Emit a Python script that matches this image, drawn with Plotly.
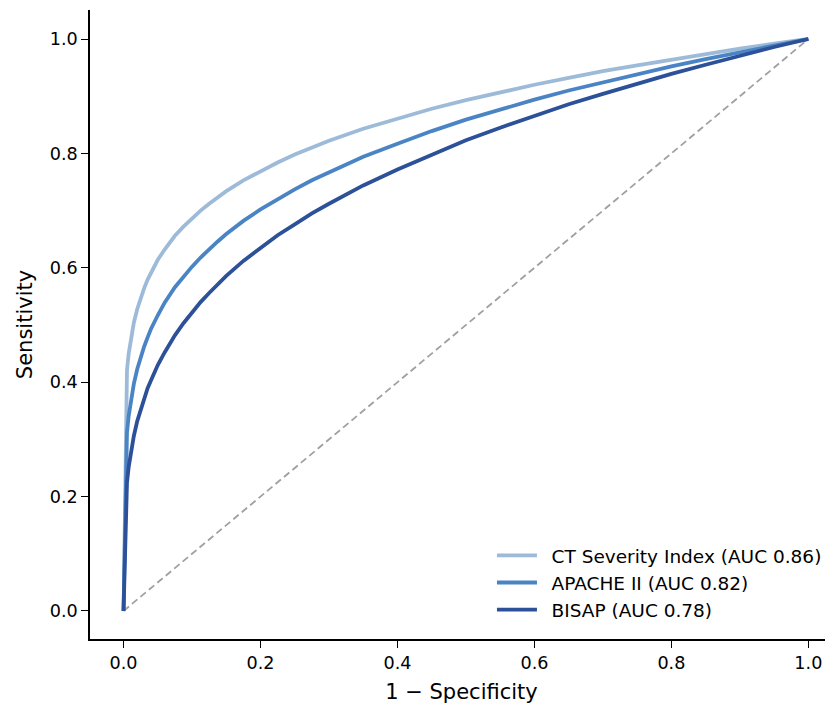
import plotly.graph_objects as go

fpr = [0, 0.005, 0.0075, 0.01, 0.015, 0.02, 0.025, 0.03, 0.035, 0.04, 0.05, 0.06, 0.075,
       0.0875, 0.1, 0.1125, 0.125, 0.1375, 0.15, 0.175, 0.2, 0.225, 0.25, 0.275, 0.3, 0.35,
       0.4, 0.45, 0.5, 0.55, 0.6, 0.65, 0.7, 0.75, 0.8, 0.85, 0.9, 0.95, 1.0]
tpr_ct = [0, 0.421, 0.450, 0.472, 0.504, 0.528, 0.548, 0.564, 0.579, 0.592, 0.614, 0.632,
          0.656, 0.672, 0.687, 0.700, 0.712, 0.724, 0.734, 0.753, 0.769, 0.784, 0.798, 0.810,
          0.822, 0.843, 0.861, 0.878, 0.893, 0.907, 0.920, 0.932, 0.944, 0.954, 0.964, 0.974,
          0.983, 0.992, 1.0]
tpr_apache = [0, 0.312, 0.341, 0.363, 0.397, 0.423, 0.444, 0.462, 0.478, 0.493, 0.517, 0.539,
              0.566, 0.585, 0.602, 0.618, 0.633, 0.646, 0.659, 0.682, 0.702, 0.720, 0.737, 0.753,
              0.767, 0.794, 0.817, 0.839, 0.859, 0.877, 0.894, 0.910, 0.924, 0.939, 0.952, 0.965,
              0.977, 0.989, 1.0]
tpr_bisap = [0, 0.224, 0.252, 0.273, 0.306, 0.332, 0.353, 0.372, 0.389, 0.403, 0.430, 0.452,
             0.482, 0.503, 0.522, 0.540, 0.556, 0.571, 0.586, 0.612, 0.635, 0.657, 0.676, 0.695,
             0.712, 0.744, 0.772, 0.798, 0.823, 0.845, 0.866, 0.886, 0.904, 0.922, 0.939, 0.955,
             0.971, 0.986, 1.0]
names = ["CT Severity Index (AUC 0.86)", "APACHE II (AUC 0.82)", "BISAP (AUC 0.78)"]
colors = ["#9dbbd8", "#4a84c4", "#2c5199"]
ticks = [0.0, 0.2, 0.4, 0.6, 0.8, 1.0]
tick_text = ["0.0", "0.2", "0.4", "0.6", "0.8", "1.0"]

fig = go.Figure()
fig.add_trace(go.Scatter(x=[0, 1], y=[0, 1], mode="lines", showlegend=False,
                         line=dict(color="#a0a0a0", width=1.8, dash="7px,4px")))
for tpr, name, col in zip([tpr_ct, tpr_apache, tpr_bisap], names, colors):
    fig.add_trace(go.Scatter(x=fpr, y=tpr, mode="lines", name="\u00a0\u2009" + name,
                             line=dict(color=col, width=3.8)))

axis_common = dict(showgrid=False, zeroline=False, showline=True, linecolor="black",
                   linewidth=1.6, ticks="outside", ticklen=7, tickwidth=1.4,
                   tickcolor="black", tickvals=ticks, ticktext=tick_text,
                   automargin=False,
                   tickfont=dict(family="DejaVu Sans", size=17.6, color="black"))
fig.update_layout(
    width=825, height=699,
    margin=dict(l=82, r=0, t=2, b=68),
    plot_bgcolor="white", paper_bgcolor="white",
    font=dict(family="DejaVu Sans", color="black"),
    xaxis=dict(range=[-0.049, 1.036], title=dict(text="1 − Specificity",
               font=dict(size=21), standoff=12), **axis_common),
    yaxis=dict(range=[-0.049, 1.0507], title=dict(text="Sensitivity",
               font=dict(size=21), standoff=11), **axis_common),
    legend=dict(x=0.541, y=0.016, xanchor="left", yanchor="bottom",
                bgcolor="rgba(255,255,255,0)", font=dict(size=18.5),
                tracegroupgap=0, itemwidth=40),
)
fig.write_html("out.html")
